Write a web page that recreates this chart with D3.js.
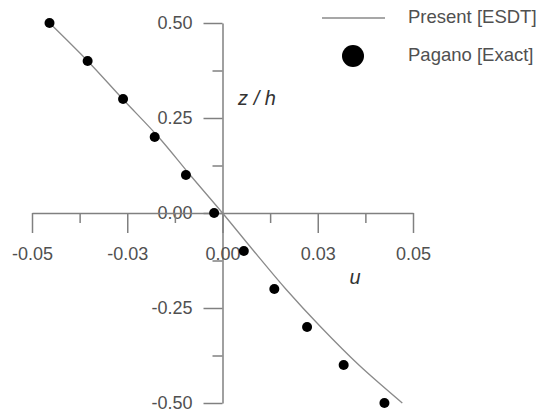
<!DOCTYPE html>
<html>
<head>
<meta charset="utf-8">
<script src="https://cdn.jsdelivr.net/npm/d3@7"></script>
<style>
  html, body { margin: 0; padding: 0; background: #fff; }
  svg { display: block; }
  text { font-family: "Liberation Sans", Arial, sans-serif; }
</style>
</head>
<body>
<svg id="chart" width="539" height="417"></svg>
<script>
// ---- data ----
const zLevels      = [0.5, 0.4, 0.3, 0.2, 0.1, 0.0, -0.1, -0.2, -0.3, -0.4, -0.5];
const presentESDT  = [-0.0454, -0.0354, -0.0262, -0.0168, -0.0085, 0.0, 0.0082, 0.0166, 0.0258, 0.0358, 0.0472];
const paganoExact  = [-0.0454, -0.0354, -0.0261, -0.0178, -0.0096, -0.0022, 0.0056, 0.0136, 0.0222, 0.0318, 0.0425];
const xMajorTicks  = [-0.05, -0.025, 0, 0.025, 0.05];
const xTickLabels  = ["-0.05", "-0.03", "0.00", "0.03", "0.05"];
const xMinorTicks  = [-0.0375, -0.0125, 0.0125, 0.0375];
const yMajorTicks  = [-0.5, -0.25, 0, 0.25, 0.5];
const yTickLabels  = ["-0.50", "-0.25", "0.00", "0.25", "0.50"];
const yMinorTicks  = [-0.375, -0.125, 0.125, 0.375];
const legendLabels = ["Present [ESDT]", "Pagano [Exact]"];

// ---- layout ----
const svg = d3.select("#chart");
const x = d3.scaleLinear().domain([-0.05, 0.05]).range([32, 413]);
const y = d3.scaleLinear().domain([-0.5, 0.5]).range([403, 23]);
const axisColor = "#808080";
const textColor = "#505050";

// Y axis (through u = 0)
const yAxisG = svg.append("g").attr("transform", `translate(${x(0)},0)`);
yAxisG.call(d3.axisLeft(y).tickValues(yMajorTicks)
  .tickFormat((d, i) => yTickLabels[i]).tickSize(19).tickSizeOuter(0).tickPadding(11));
const yMinorG = svg.append("g").attr("transform", `translate(${x(0)},0)`);
yMinorG.call(d3.axisLeft(y).tickValues(yMinorTicks).tickFormat("").tickSize(10).tickSizeOuter(0));
yMinorG.select(".domain").remove();

// X axis (through z = 0)
const xAxisG = svg.append("g").attr("transform", `translate(0,${y(0)})`);
xAxisG.call(d3.axisBottom(x).tickValues(xMajorTicks)
  .tickFormat((d, i) => xTickLabels[i]).tickSize(20).tickSizeOuter(0).tickPadding(14));
const xMinorG = svg.append("g").attr("transform", `translate(0,${y(0)})`);
xMinorG.call(d3.axisBottom(x).tickValues(xMinorTicks).tickFormat("").tickSize(10).tickSizeOuter(0));
xMinorG.select(".domain").remove();

svg.selectAll(".domain, .tick line").attr("stroke", axisColor).attr("stroke-width", 1.5);
svg.selectAll(".tick text").attr("fill", textColor).attr("font-size", 18)
  .attr("font-family", "Liberation Sans, Arial, sans-serif");

// Axis titles
svg.append("text").attr("x", 257).attr("y", 100).attr("text-anchor", "middle")
  .attr("dominant-baseline", "middle").attr("font-style", "italic")
  .attr("font-size", 20).attr("fill", "#333").text("z / h");
svg.append("text").attr("x", 355).attr("y", 279).attr("text-anchor", "middle")
  .attr("dominant-baseline", "middle").attr("font-style", "italic")
  .attr("font-size", 20).attr("fill", "#333").text("u");

// Present line
const lineData = zLevels.map((z, i) => ({ u: presentESDT[i], z }));
svg.append("path").datum(lineData)
  .attr("fill", "none").attr("stroke", "#8a8a8a").attr("stroke-width", 1.3)
  .attr("d", d3.line().x(d => x(d.u)).y(d => y(d.z)).curve(d3.curveMonotoneY));

// Pagano dots
svg.append("g").selectAll("circle")
  .data(zLevels.map((z, i) => ({ u: paganoExact[i], z })))
  .join("circle")
  .attr("cx", d => x(d.u)).attr("cy", d => y(d.z)).attr("r", 5).attr("fill", "#000");

// Legend
const lg = svg.append("g");
lg.append("line").attr("x1", 322).attr("x2", 385).attr("y1", 18).attr("y2", 18)
  .attr("stroke", "#8a8a8a").attr("stroke-width", 1.3);
lg.append("circle").attr("cx", 353).attr("cy", 56).attr("r", 11).attr("fill", "#000");
lg.selectAll("text").data(legendLabels).join("text")
  .attr("x", 408).attr("y", (d, i) => 18 + i * 38)
  .attr("dominant-baseline", "middle").attr("font-size", 18.5).attr("fill", textColor)
  .text(d => d);
</script>
</body>
</html>
